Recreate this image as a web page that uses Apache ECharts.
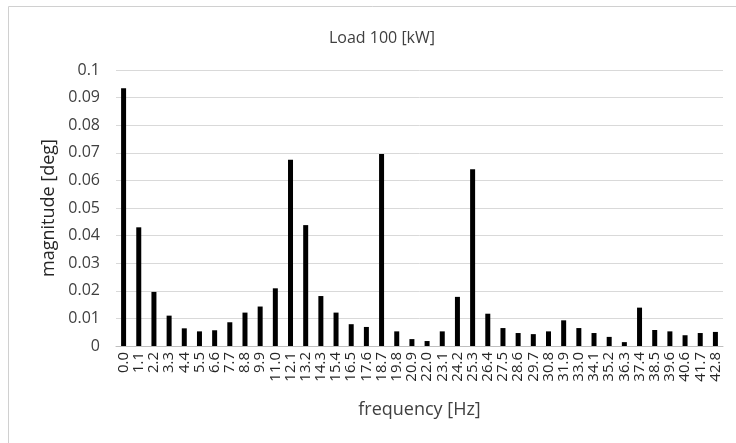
<!DOCTYPE html>
<html><head><meta charset="utf-8">
<script src="https://cdn.jsdelivr.net/npm/echarts@6/dist/echarts.min.js"></script>
<style>html,body{margin:0;padding:0;background:#fff}#c{width:736px;height:443px}</style>
</head><body><div id="c"></div>
<script>
const categories = ["0.0","1.1","2.2","3.3","4.4","5.5","6.6","7.7","8.8","9.9","11.0","12.1","13.2","14.3","15.4","16.5","17.6","18.7","19.8","20.9","22.0","23.1","24.2","25.3","26.4","27.5","28.6","29.7","30.8","31.9","33.0","34.1","35.2","36.3","37.4","38.5","39.6","40.6","41.7","42.8"];
const magnitude = [0.0934,0.0430,0.0196,0.0110,0.0064,0.0053,0.0057,0.0086,0.0121,0.0143,0.0209,0.0675,0.0438,0.0181,0.0121,0.0079,0.0069,0.0696,0.0053,0.0025,0.0018,0.0053,0.0178,0.0640,0.0117,0.0065,0.0047,0.0043,0.0053,0.0093,0.0065,0.0047,0.0033,0.0014,0.0139,0.0058,0.0053,0.0039,0.0047,0.0051];
const yTicks = [0,0.01,0.02,0.03,0.04,0.05,0.06,0.07,0.08,0.09,0.1];
const font = "'Open Sans', 'Noto Sans', sans-serif";
const chart = echarts.init(document.getElementById('c'), null, {renderer:'canvas'});
chart.setOption({
  animation:false,
  backgroundColor:'#fff',
  graphic:[{type:'rect',shape:{x:8.5,y:6.5,width:740,height:450},style:{fill:'none',stroke:'#d0d0d0',lineWidth:1},silent:true}],
  title:{text:'Load 100 [kW]',left:377,top:25,textAlign:'center',textStyle:{fontFamily:font,fontSize:16,fontWeight:'normal',color:'#404040'}},
  grid:{left:116,right:13,top:70,bottom:97},
  xAxis:{type:'category',data:categories,
    name:'frequency [Hz]',nameLocation:'middle',nameGap:55,
    nameTextStyle:{fontFamily:font,fontSize:18,color:'#404040'},
    axisLine:{lineStyle:{color:'#bfbfbf'}},axisTick:{show:false},
    axisLabel:{rotate:90,interval:0,fontFamily:font,fontSize:15,color:'#262626',margin:6}},
  yAxis:{type:'value',min:0,max:0.1,interval:0.01,
    name:'magnitude [deg]',nameLocation:'middle',nameGap:56,
    nameTextStyle:{fontFamily:font,fontSize:18,color:'#262626'},
    axisLine:{show:false},axisTick:{show:false},
    splitLine:{lineStyle:{color:'#d9d9d9'}},
    axisLabel:{fontFamily:font,fontSize:16,color:'#404040',margin:16,
      formatter:v=>{const t=yTicks.find(x=>Math.abs(x-v)<1e-9);return String(t!==undefined?t:v);}}},
  series:[{type:'bar',data:magnitude,barWidth:5,itemStyle:{color:'#000'}}]
});
</script></body></html>
